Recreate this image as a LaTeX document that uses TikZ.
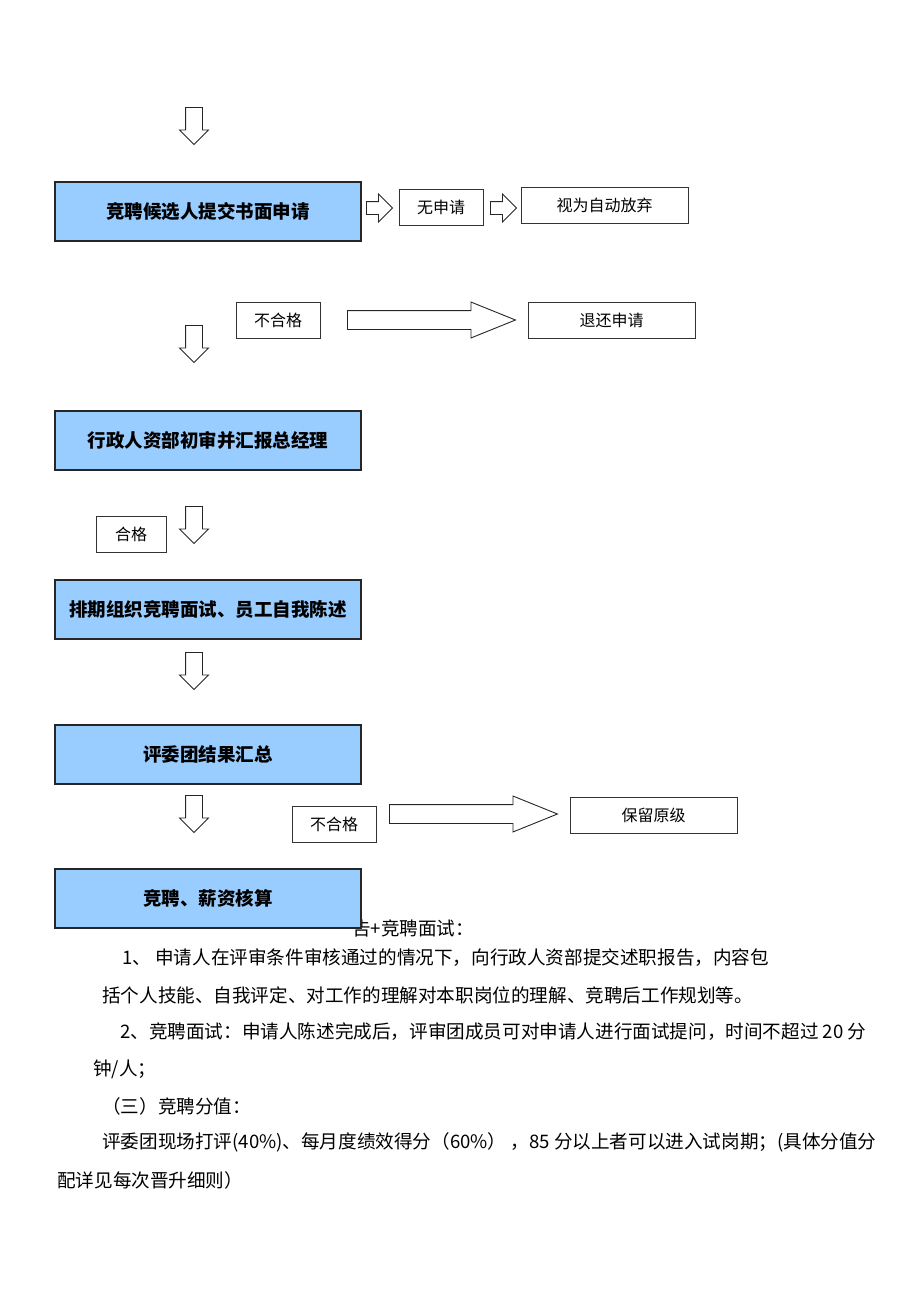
\documentclass[tikz,border=0pt]{standalone}
\usepackage{fontspec}
\setmainfont{Noto Sans CJK SC}
\usetikzlibrary{shapes.arrows,positioning}
\definecolor{boxblue}{RGB}{153,204,255}

\begin{document}
\begin{tikzpicture}[
    x=1pt, y=-1pt,
    stepbox/.style = {rectangle, draw=black!85, line width=1.2pt, fill=boxblue, minimum width=306pt, minimum height=59pt, font=\bfseries\fontsize{18.5}{18.5}\selectfont},
    notebox/.style = {rectangle, draw=black!80, line width=0.8pt, fill=white, minimum height=36pt, font=\fontsize{16}{16}\selectfont},
    downarrow/.style = {single arrow, draw=black!85, line width=0.9pt, rotate=-90, anchor=tail, minimum height=37pt, inner xsep=0pt, inner ysep=8pt, single arrow head extend=6pt},
    rightarrow/.style = {single arrow, draw=black!85, line width=0.9pt, anchor=tail, minimum height=26pt, inner xsep=0pt, inner ysep=6pt, single arrow head extend=7.5pt},
    bigarrow/.style = {single arrow, draw=black!85, line width=0.9pt, anchor=tail, minimum height=168pt, inner xsep=0pt, inner ysep=9pt, single arrow head extend=8.5pt, single arrow tip angle=44},
    bodytext/.style = {anchor=west, inner sep=0pt, font=\fontsize{18.6}{18.6}\selectfont}
]
    \useasboundingbox (0,0) rectangle (920,1302);

    % Steps and arrows
    \node [downarrow] (arrowA) at (194,107) {};
    \node [stepbox] (apply) at (208,211.5) {竞聘候选人提交书面申请};
    \node [rightarrow] (arrowB) at (366,208) {};
    \node [notebox, minimum width=84pt] (noapply) at (441,207.5) {无申请};
    \node [rightarrow] (arrowC) at (490,208) {};
    \node [notebox, minimum width=167pt] (giveup) at (604.5,205) {视为自动放弃};

    \node [notebox, minimum width=84pt] (failA) at (278,320) {不合格};
    \node [bigarrow] (arrowD) at (347,320) {};
    \node [notebox, minimum width=167pt] (giveback) at (611.5,320) {退还申请};
    \node [downarrow] (arrowE) at (194,325) {};

    \node [stepbox] (check) at (208,440.5) {行政人资部初审并汇报总经理};
    \node [notebox, minimum width=70pt] (pass) at (131,534) {合格};
    \node [downarrow] (arrowF) at (194,506) {};

    \node [stepbox] (interview) at (208,609.5) {排期组织竞聘面试、员工自我陈述};
    \node [downarrow] (arrowG) at (194,652) {};

    \node [stepbox] (result) at (208,754.5) {评委团结果汇总};
    \node [downarrow] (arrowH) at (194,795) {};
    \node [notebox, minimum width=84pt] (failB) at (334,824.5) {不合格};
    \node [bigarrow] (arrowI) at (389,814) {};
    \node [notebox, minimum width=167pt] (keep) at (653.5,815) {保留原级};

    % Text below
    \node [bodytext] (lineA) at (352,928) {告+竞聘面试：};
    \node [stepbox] (salary) at (208,898.5) {竞聘、薪资核算};
    \node [bodytext] (lineB) at (122,958) {1、 申请人在评审条件审核通过的情况下，向行政人资部提交述职报告，内容包};
    \node [bodytext] (lineC) at (102,995) {括个人技能、自我评定、对工作的理解对本职岗位的理解、竞聘后工作规划等。};
    \node [bodytext] (lineD) at (120,1032) {2、竞聘面试：申请人陈述完成后，评审团成员可对申请人进行面试提问，时间不超过 20 分};
    \node [bodytext] (lineE) at (93,1069) {钟/人；};
    \node [bodytext] (lineF) at (102,1106) {（三）竞聘分值：};
    \node [bodytext] (lineG) at (102,1142) {评委团现场打评(40\%)、每月度绩效得分（60\%） ，85 分以上者可以进入试岗期；(具体分值分};
    \node [bodytext] (lineH) at (57,1180) {配详见每次晋升细则）};

\end{tikzpicture}
\end{document}
